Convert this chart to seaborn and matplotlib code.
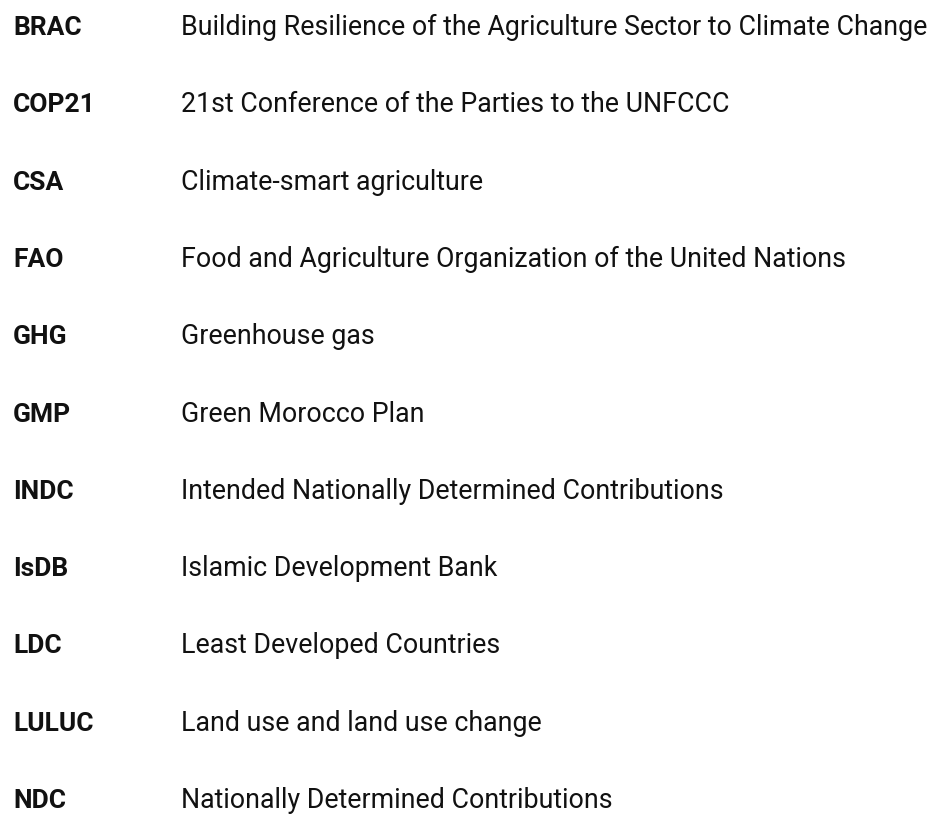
import matplotlib
matplotlib.use('Agg')
from matplotlib import pyplot as plt
import seaborn as sns

acronyms = ['BRAC', 'COP21', 'CSA', 'FAO', 'GHG', 'GMP', 'INDC', 'IsDB',
            'LDC', 'LULUC', 'NDC']

meanings = ['Building Resilience of the Agriculture Sector to Climate Change',
            '21st Conference of the Parties to the UNFCCC',
            'Climate-smart agriculture',
            'Food and Agriculture Organization of the United Nations',
            'Greenhouse gas',
            'Green Morocco Plan',
            'Intended Nationally Determined Contributions',
            'Islamic Development Bank',
            'Least Developed Countries',
            'Land use and land use change',
            'Nationally Determined Contributions']

sns.set_style('white')
plt.rcParams['font.family'] = ['Roboto', 'DejaVu Sans']

fig = plt.figure(figsize=(9.33, 8.16), dpi=100)
ax = fig.add_axes([0, 0, 1, 1])
ax.set_xlim(0, 933)
# baseline of row 0 near 35 px from top, row spacing ~77 px
step = 77.3
top = -35.0 / step
ax.set_ylim(top + 816 / step, top)
ax.axis('off')

for i, (a, m) in enumerate(zip(acronyms, meanings)):
    ax.text(13, i, a, fontsize=19, fontweight='bold', va='baseline', color='#111111')
    ax.text(181, i, m, fontsize=19.3, va='baseline', color='#111111')

fig.savefig('out.png', dpi=100)
